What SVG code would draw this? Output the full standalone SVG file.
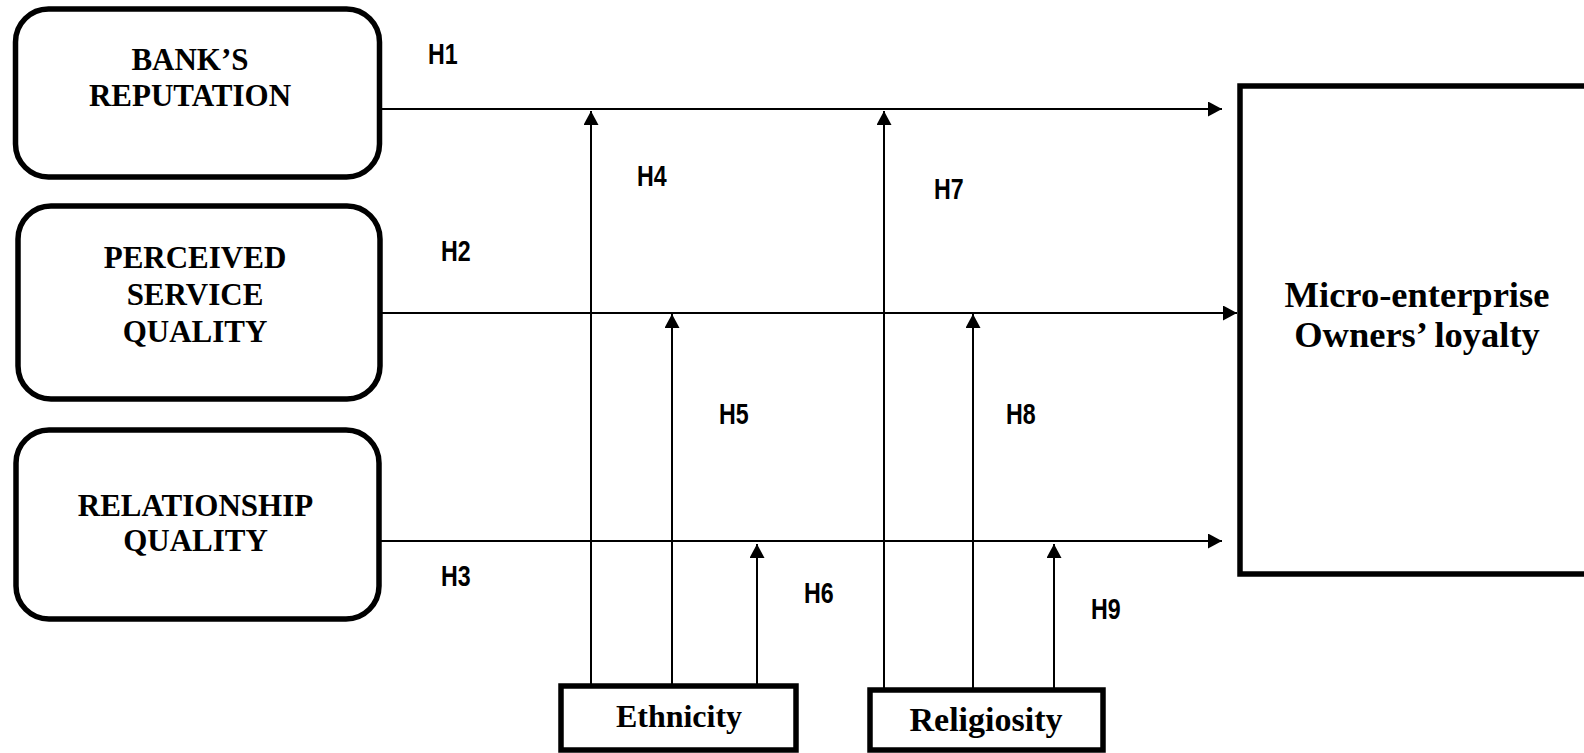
<svg xmlns="http://www.w3.org/2000/svg" width="1584" height="753" viewBox="0 0 1584 753">
  <style>
    .box { fill: #ffffff; stroke: #000000; stroke-width: 5.5; }
    .lbl { font-family: "Liberation Serif", "Times New Roman", serif; font-weight: bold; fill: #000000; text-anchor: middle; }
    .hyp { font-family: "Liberation Sans", Arial, sans-serif; font-weight: bold; font-size: 29px; fill: #000000; }
    .link { stroke: #000000; stroke-width: 2; fill: none; }
  </style>
  <defs>
    <marker id="head" markerUnits="userSpaceOnUse" markerWidth="15" markerHeight="16" refX="14" refY="7.5" orient="auto">
      <path d="M0,0 L14,7.5 L0,15 Z" fill="#000000"/>
    </marker>
  </defs>
  <rect width="1584" height="753" fill="#ffffff"/>

  <!-- independent constructs -->
  <g id="bank-reputation">
    <rect class="box" x="15.5" y="9" width="364" height="168" rx="33" ry="33"/>
    <text class="lbl" font-size="31" x="190" y="70">BANK’S</text>
    <text class="lbl" font-size="31" x="190" y="106">REPUTATION</text>
  </g>
  <g id="perceived-service-quality">
    <rect class="box" x="18" y="206" width="362" height="193" rx="33" ry="33"/>
    <text class="lbl" font-size="31" x="195" y="268">PERCEIVED</text>
    <text class="lbl" font-size="31" x="195" y="305">SERVICE</text>
    <text class="lbl" font-size="31" x="195" y="342">QUALITY</text>
  </g>
  <g id="relationship-quality">
    <rect class="box" x="16" y="430" width="363" height="189" rx="33" ry="33"/>
    <text class="lbl" font-size="31" x="195.5" y="516">RELATIONSHIP</text>
    <text class="lbl" font-size="31" x="195.5" y="551">QUALITY</text>
  </g>

  <!-- dependent construct -->
  <g id="owners-loyalty">
    <rect class="box" x="1240" y="86" width="380" height="488"/>
    <text class="lbl" font-size="36.5" x="1417" y="307">Micro-enterprise</text>
    <text class="lbl" font-size="36.5" x="1417" y="347">Owners’ loyalty</text>
  </g>

  <!-- moderators -->
  <g id="ethnicity">
    <rect class="box" x="561" y="686" width="235" height="64"/>
    <text class="lbl" font-size="32" x="679" y="727">Ethnicity</text>
  </g>
  <g id="religiosity">
    <rect class="box" x="870" y="690" width="233" height="60"/>
    <text class="lbl" font-size="34" x="986" y="731">Religiosity</text>
  </g>

  <!-- paths -->
  <g id="connectors">
    <line class="link" x1="380" y1="109" x2="1222" y2="109" marker-end="url(#head)"/>
    <line class="link" x1="381" y1="313" x2="1237" y2="313" marker-end="url(#head)"/>
    <line class="link" x1="380" y1="541" x2="1222" y2="541" marker-end="url(#head)"/>

    <line class="link" x1="591" y1="684" x2="591" y2="111" marker-end="url(#head)"/>
    <line class="link" x1="672" y1="684" x2="672" y2="314" marker-end="url(#head)"/>
    <line class="link" x1="757" y1="684" x2="757" y2="544" marker-end="url(#head)"/>

    <line class="link" x1="884" y1="688" x2="884" y2="111" marker-end="url(#head)"/>
    <line class="link" x1="973" y1="688" x2="973" y2="314" marker-end="url(#head)"/>
    <line class="link" x1="1054" y1="688" x2="1054" y2="544" marker-end="url(#head)"/>
  </g>

  <!-- hypothesis labels -->
  <g id="hypotheses">
    <text class="hyp" transform="translate(428,64) scale(0.8,1)">H1</text>
    <text class="hyp" transform="translate(441,261) scale(0.8,1)">H2</text>
    <text class="hyp" transform="translate(441,586) scale(0.8,1)">H3</text>
    <text class="hyp" transform="translate(637,186) scale(0.8,1)">H4</text>
    <text class="hyp" transform="translate(719,424) scale(0.8,1)">H5</text>
    <text class="hyp" transform="translate(804,603) scale(0.8,1)">H6</text>
    <text class="hyp" transform="translate(934,199) scale(0.8,1)">H7</text>
    <text class="hyp" transform="translate(1006,424) scale(0.8,1)">H8</text>
    <text class="hyp" transform="translate(1091,619) scale(0.8,1)">H9</text>
  </g>
</svg>
